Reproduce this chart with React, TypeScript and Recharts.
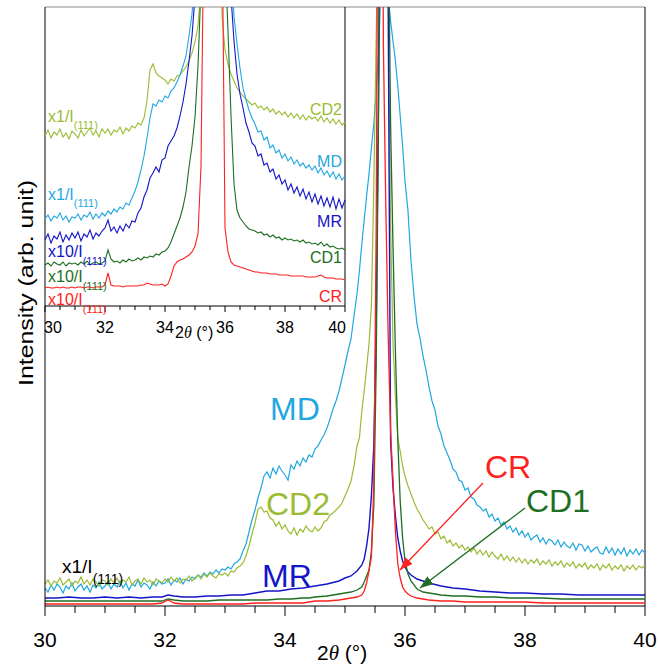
import React from 'react';
import { Line, LineChart, ReferenceLine, XAxis, YAxis } from 'recharts';

const FONT = '"Liberation Sans", Arial, sans-serif';

const C_MD = '#1fa8e0';
const C_CD2 = '#9bbb32';
const C_MR = '#1414c8';
const C_CD1 = '#1e6e23';
const C_CR = '#ff2020';

const axisTicks = [30, 30.5, 31, 31.5, 32, 32.5, 33, 33.5, 34, 34.5, 35, 35.5, 36, 36.5, 37, 37.5, 38, 38.5, 39, 39.5, 40];

// main panel, noisy scans (MD, CD2)
const fineAngles = [
  30, 30.05, 30.1, 30.15, 30.2, 30.25, 30.3, 30.35, 30.4, 30.45,
  30.5, 30.55, 30.6, 30.65, 30.7, 30.75, 30.8, 30.85, 30.9, 30.95,
  31, 31.05, 31.1, 31.15, 31.2, 31.25, 31.3, 31.35, 31.4, 31.45,
  31.5, 31.55, 31.6, 31.65, 31.7, 31.75, 31.8, 31.85, 31.9, 31.95,
  32, 32.05, 32.1, 32.15, 32.2, 32.25, 32.3, 32.35, 32.4, 32.45,
  32.5, 32.55, 32.6, 32.65, 32.7, 32.75, 32.8, 32.85, 32.9, 32.95,
  33, 33.05, 33.1, 33.15, 33.2, 33.25, 33.3, 33.35, 33.4, 33.45,
  33.5, 33.55, 33.6, 33.65, 33.7, 33.75, 33.8, 33.85, 33.9, 33.95,
  34, 34.05, 34.1, 34.15, 34.2, 34.25, 34.3, 34.35, 34.4, 34.45,
  34.5, 34.55, 34.6, 34.65, 34.7, 34.75, 34.8, 34.85, 34.9, 34.95,
  35, 35.05, 35.1, 35.15, 35.2,
  35.24, 35.28, 35.32, 35.36, 35.4, 35.44, 35.48, 35.52, 35.56, 35.6,
  35.64, 35.68, 35.72, 35.76, 35.8, 35.84, 35.88, 35.92, 35.96, 36,
  36.05, 36.1, 36.15, 36.2, 36.25, 36.3, 36.35, 36.4, 36.45, 36.5,
  36.55, 36.6, 36.65, 36.7, 36.75, 36.8, 36.85, 36.9, 36.95, 37,
  37.05, 37.1, 37.15, 37.2, 37.25, 37.3, 37.35, 37.4, 37.45, 37.5,
  37.55, 37.6, 37.65, 37.7, 37.75, 37.8, 37.85, 37.9, 37.95, 38,
  38.05, 38.1, 38.15, 38.2, 38.25, 38.3, 38.35, 38.4, 38.45, 38.5,
  38.55, 38.6, 38.65, 38.7, 38.75, 38.8, 38.85, 38.9, 38.95, 39,
  39.05, 39.1, 39.15, 39.2, 39.25, 39.3, 39.35, 39.4, 39.45, 39.5,
  39.55, 39.6, 39.65, 39.7, 39.75, 39.8, 39.85, 39.9, 39.95, 40,
];

const mdMain = [
  18, 14, 21, 16, 22, 19, 13, 20, 17, 23,
  15, 19, 22, 16, 20, 14, 21, 18, 24, 17,
  20, 24, 17, 22, 19, 25, 18, 23, 16, 22,
  20, 26, 19, 23, 21, 17, 24, 20, 25, 22,
  23, 27, 21, 26, 24, 28, 22, 27, 25, 29,
  27, 31, 29, 33, 30, 34, 32, 36, 33, 37,
  36, 39, 37, 42, 44, 47, 55, 62, 74, 86,
  96, 108, 118, 130, 134, 128, 138, 132, 140, 135,
  131, 126, 141, 137, 145, 140, 148, 144, 151, 149,
  157, 160, 166, 171, 178, 187, 197, 205, 215, 228,
  241, 255, 267, 290, 312,
  335, 362, 386, 410, 432, 458, 482, 515, 555, 620,
  700, 680, 610, 585, 565, 545, 520, 490, 460, 425,
  395, 345, 310, 282, 268, 250, 236, 219, 205, 196,
  180, 172, 160, 153, 146, 137, 134, 126, 124, 116,
  118, 109, 107, 101, 99, 95, 97, 89, 92, 85,
  88, 81, 84, 77, 80, 74, 78, 71, 75, 69,
  73, 66, 69, 71, 64, 68, 62, 67, 65, 61,
  66, 59, 64, 60, 58, 63, 56, 62, 61, 55,
  60, 54, 57, 59, 53, 52, 59, 53, 58, 51,
  57, 52, 58, 50, 56, 52, 57, 51, 56, 53,
];

const cd2Main = [
  22, 26, 20, 25, 23, 28, 21, 24, 27, 20,
  25, 23, 29, 22, 26, 21, 27, 24, 20, 26,
  25, 21, 27, 23, 28, 22, 26, 24, 29, 21,
  25, 27, 22, 28, 24, 26, 21, 27, 25, 23,
  27, 24, 29, 25, 28, 23, 27, 26, 30, 25,
  28, 31, 27, 32, 29, 33, 30, 28, 32, 31,
  33, 30, 35, 34, 38, 40, 43, 50, 60, 72,
  83, 97, 99, 94, 95, 88, 86, 80, 84, 77,
  81, 75, 72, 78, 71, 77, 74, 80, 76, 74,
  79, 75, 78, 84, 86, 91, 93, 96, 99, 103,
  110, 117, 125, 140, 160,
  168, 195, 215, 238, 262, 300, 420, 570, 700, 820,
  880, 800, 620, 380, 262, 210, 168, 155, 140, 130,
  120, 112, 104, 97, 92, 86, 82, 77, 79, 72,
  74, 67, 70, 63, 66, 60, 63, 58, 61, 56,
  59, 54, 58, 52, 56, 51, 55, 49, 54, 50,
  47, 52, 46, 50, 45, 49, 44, 48, 43, 47,
  42, 46, 43, 47, 41, 45, 42, 46, 40, 44,
  41, 45, 39, 43, 40, 44, 38, 42, 39, 43,
  37, 41, 38, 42, 36, 41, 38, 42, 36, 40,
  37, 41, 35, 40, 37, 41, 36, 40, 38, 41,
];

// main panel, smooth scans (MR, CD1, CR)
const smoothAngles = [
  30, 30.2, 30.4, 30.6, 30.8, 31, 31.2, 31.4, 31.6, 31.8,
  31.95, 32.05, 32.15, 32.3, 32.5, 32.7, 32.9, 33.1, 33.3, 33.5,
  33.7, 33.9, 34.1, 34.3, 34.4, 34.5, 34.7, 34.9, 35, 35.1,
  35.2, 35.28, 35.32, 35.36, 35.4, 35.44, 35.48, 35.52, 35.56, 35.6,
  35.64, 35.68, 35.72, 35.76, 35.8, 35.84, 35.88, 35.92, 35.96, 36,
  36.05, 36.1, 36.2, 36.3, 36.4, 36.6, 36.8, 37, 37.25, 37.5,
  37.75, 38, 38.3, 38.6, 38.9, 39.2, 39.5, 39.8, 40,
];

const mrMain = [
  8, 8, 9, 8, 8, 9, 8, 9, 8, 9,
  9, 11, 10, 9, 9, 10, 10, 11, 11, 13,
  15, 15, 17, 18, 19, 20, 22, 25, 28, 30,
  35, 41, 47, 60, 78, 110, 160, 280, 520, 900,
  1100, 950, 600, 165, 118, 90, 68, 55, 45, 39,
  34, 31, 27, 25, 23, 20, 18, 17, 15, 14,
  13, 13, 12, 12, 11, 11, 11, 11, 11,
];

const cd1Main = [
  5, 5, 5, 5, 5, 5, 5, 5, 5, 5,
  5, 7, 6, 5, 5, 5, 6, 6, 6, 6,
  6, 7, 7, 8, 8, 9, 10, 12, 13, 14,
  16, 19, 24, 30, 36, 55, 100, 240, 500, 900,
  1200, 1300, 700, 480, 360, 255, 166, 105, 68, 45,
  32, 25, 17, 14, 13, 11, 10, 10, 9, 9,
  8, 8, 8, 7, 7, 7, 7, 7, 7,
];

const crMain = [
  2, 2, 2, 2, 2, 2, 2, 2, 2, 2,
  3, 6, 3, 2, 2, 2, 2, 2, 2, 3,
  3, 3, 3, 3, 4, 5, 5, 6, 7, 8,
  9, 11, 15, 23, 35, 49, 120, 380, 900, 1000,
  560, 400, 270, 175, 125, 75, 42, 28, 19, 15,
  12, 10, 8, 7, 6, 5, 5, 4, 4, 4,
  4, 4, 3, 3, 3, 3, 3, 3, 3,
];

// inset (normalised, offset scans)
const insetAngles = [
  30, 30.1, 30.2, 30.3, 30.4, 30.5, 30.6, 30.7, 30.8, 30.9,
  31, 31.1, 31.2, 31.3, 31.4, 31.5, 31.6, 31.7, 31.8, 31.9,
  32, 32.1, 32.2, 32.3, 32.4, 32.5, 32.6, 32.7, 32.8, 32.9,
  33, 33.1, 33.2, 33.3, 33.4, 33.5, 33.6, 33.7, 33.8, 33.9,
  34, 34.1, 34.2, 34.3, 34.4, 34.5, 34.6, 34.7, 34.8, 34.9,
  35, 35.1, 35.2, 35.3, 35.4, 35.5, 35.6, 35.7, 35.8, 35.9,
  36, 36.1, 36.2, 36.3, 36.4, 36.5, 36.6, 36.7, 36.8, 36.9,
  37, 37.1, 37.2, 37.3, 37.4, 37.5, 37.6, 37.7, 37.8, 37.9,
  38, 38.1, 38.2, 38.3, 38.4, 38.5, 38.6, 38.7, 38.8, 38.9,
  39, 39.1, 39.2, 39.3, 39.4, 39.5, 39.6, 39.7, 39.8, 39.9,
  40,
];

const cd2Inset = [
  170, 176, 168, 174, 171, 177, 169, 173, 167, 175,
  172, 168, 176, 170, 174, 178, 171, 175, 169, 177,
  173, 177, 171, 176, 174, 179, 172, 178, 175, 180,
  178, 183, 181, 188, 205, 236, 242, 233, 230, 228,
  226, 222, 227, 225, 230, 231, 235, 239, 245, 253,
  264, 280, 320, 420, 600, 800, 900, 800, 500, 290,
  256, 242, 232, 225, 218, 214, 210, 207, 204, 201,
  203, 198, 200, 196, 199, 194, 197, 192, 195, 191,
  194, 189, 193, 188, 192, 187, 191, 186, 190, 187,
  189, 185, 190, 184, 188, 183, 187, 182, 186, 181,
  184,
];

const mdInset = [
  87, 91, 85, 90, 88, 93, 86, 90, 84, 89,
  88, 92, 86, 91, 89, 94, 87, 92, 88, 93,
  90, 95, 92, 97, 94, 99, 97, 103, 101, 108,
  115, 124, 136, 150, 168, 188, 202, 200, 206, 204,
  210, 208, 215, 218, 224, 231, 240, 250, 270, 292,
  330, 400, 520, 650, 800, 900, 950, 900, 800, 650,
  500, 400, 335, 290, 262, 238, 218, 206, 196, 188,
  182, 174, 175, 166, 169, 158, 161, 153, 156, 148,
  152, 145, 149, 142, 146, 140, 143, 138, 141, 136,
  140, 133, 138, 131, 135, 129, 134, 127, 132, 126,
  130,
];

const mrInset = [
  66, 72, 63, 70, 67, 74, 64, 71, 66, 73,
  68, 74, 65, 72, 69, 76, 67, 73, 70, 75,
  78, 86, 75, 79, 73, 80, 75, 82, 78, 85,
  84, 93, 98, 109, 116, 128, 133, 139, 134, 146,
  148, 160, 165, 170, 178, 190, 204, 222, 245, 270,
  310, 420, 600, 800, 950, 1000, 1000, 950, 800, 650,
  480, 380, 310, 265, 232, 212, 198, 183, 174, 163,
  160, 150, 152, 141, 143, 134, 137, 127, 131, 122,
  126, 116, 122, 113, 119, 110, 117, 107, 114, 104,
  112, 102, 110, 100, 108, 99, 109, 97, 107, 98,
  106,
];

const cd1Inset = [
  41, 43, 40, 44, 42, 41, 44, 40, 43, 42,
  43, 41, 44, 42, 45, 41, 43, 44, 42, 43,
  45, 56, 47, 44, 45, 43, 46, 44, 47, 45,
  46, 48, 46, 49, 48, 50, 49, 52, 51, 54,
  55, 58, 64, 72, 80, 88, 99, 114, 139, 160,
  189, 240, 320, 600, 900, 1000, 1000, 900, 700, 500,
  350, 275, 190, 122, 96, 88, 84, 80, 77, 76,
  75, 73, 74, 71, 72, 69, 71, 68, 69, 66,
  68, 66, 67, 65, 66, 64, 66, 63, 64, 62,
  63, 61, 64, 60, 62, 59, 60, 58, 57, 58,
  56,
];

const crInset = [
  18, 19, 18, 18, 19, 18, 19, 18, 18, 19,
  18, 19, 19, 18, 19, 19, 18, 19, 19, 19,
  21, 33, 21, 20, 20, 20, 19, 20, 20, 20,
  20, 20, 21, 21, 23, 22, 21, 21, 21, 22,
  20, 22, 30, 40, 44, 46, 47, 49, 51, 54,
  60, 72, 140, 400, 900, 1200, 1300, 1200, 800, 400,
  78, 54, 44, 41, 40, 39, 38, 37, 36, 35,
  34, 34, 33, 33, 33, 32, 32, 32, 31, 31,
  31, 31, 30, 30, 30, 30, 30, 29, 29, 29,
  29, 30, 31, 29, 28, 28, 28, 27, 27, 27,
  26,
];

const zip = (angles: number[], vals: number[]) => angles.map((a, i) => ({ a, v: vals[i] }));

const mainTick = (p: any) => {
  const v = p.payload.value;
  const major = v % 2 === 0;
  return (
    <g>
      <line x1={p.x} x2={p.x} y1={p.y} y2={p.y + (major ? 10 : 7)} stroke="#000" />
      {major && (
        <text x={p.x} y={p.y + 41} textAnchor="middle" fontSize={21} fontFamily={FONT} fill="#000">
          {v}
        </text>
      )}
    </g>
  );
};

const insetTick = (p: any) => {
  const v = p.payload.value;
  const major = v % 2 === 0;
  const anchor = v === 30 ? 'start' : v === 40 ? 'end' : 'middle';
  const tx = v === 30 ? p.x - 1 : v === 40 ? p.x + 1 : p.x;
  return (
    <g>
      <line x1={p.x} x2={p.x} y1={p.y} y2={p.y + (major ? 6 : 4)} stroke="#000" />
      {major && (
        <text x={tx} y={p.y + 27} textAnchor={anchor} fontSize={16} fontFamily={FONT} fill="#000">
          {v}
        </text>
      )}
    </g>
  );
};

function Sub({ x, y, color, main, size, subSize, drop }: any) {
  return (
    <text x={x} y={y} fill={color} fontSize={size} fontFamily={FONT}>
      {main}
      <tspan dy={drop} fontSize={subSize}>(111)</tspan>
    </text>
  );
}

export default function App() {
  const line = (data: any[], color: string, w: number, key: string) => (
    <Line
      key={key}
      data={data}
      dataKey="v"
      type="linear"
      stroke={color}
      strokeWidth={w}
      dot={false}
      activeDot={false}
      isAnimationActive={false}
    />
  );

  return (
    <div style={{ position: 'absolute', left: 0, top: 0, width: 660, height: 668, background: '#fff' }}>
      <div style={{ position: 'absolute', left: 0, top: 0 }}>
        <LineChart width={660} height={668} margin={{ top: 7, right: 15, bottom: 0, left: 0 }}>
          <XAxis
            type="number"
            dataKey="a"
            domain={[30, 40]}
            ticks={axisTicks}
            interval={0}
            height={62}
            tickLine={false}
            tickSize={0}
            tickMargin={0}
            tick={mainTick}
            axisLine={{ stroke: '#000' }}
          />
          <YAxis type="number" domain={[0, 599]} allowDataOverflow width={45} tick={false} tickLine={false} axisLine={{ stroke: '#000' }} />
          <ReferenceLine y={599} stroke="#8c8c8c" />
          <ReferenceLine x={40} stroke="#000" />
          {line(zip(fineAngles, mdMain), C_MD, 1.2, 'md')}
          {line(zip(fineAngles, cd2Main), C_CD2, 1.2, 'cd2')}
          {line(zip(smoothAngles, mrMain), C_MR, 1.4, 'mr')}
          {line(zip(smoothAngles, cd1Main), C_CD1, 1.3, 'cd1')}
          {line(zip(smoothAngles, crMain), C_CR, 1.3, 'cr')}
        </LineChart>
      </div>

      <div style={{ position: 'absolute', left: 46, top: 8, width: 299, height: 298, background: '#fff' }} />

      <div style={{ position: 'absolute', left: 0, top: 0 }}>
        <LineChart width={350} height={345} margin={{ top: 7, right: 5, bottom: 0, left: 45 }}>
          <XAxis
            type="number"
            dataKey="a"
            domain={[30, 40]}
            ticks={axisTicks}
            interval={0}
            height={39}
            tickLine={false}
            tickSize={0}
            tickMargin={0}
            tick={insetTick}
            axisLine={{ stroke: '#000' }}
          />
          <YAxis type="number" domain={[0, 299]} allowDataOverflow hide />
          <ReferenceLine x={40} stroke="#000" />
          {line(zip(insetAngles, cd2Inset), C_CD2, 1.1, 'icd2')}
          {line(zip(insetAngles, mdInset), C_MD, 1.1, 'imd')}
          {line(zip(insetAngles, mrInset), C_MR, 1.1, 'imr')}
          {line(zip(insetAngles, cd1Inset), C_CD1, 1.1, 'icd1')}
          {line(zip(insetAngles, crInset), C_CR, 1.1, 'icr')}
        </LineChart>
      </div>

      <svg width={660} height={668} style={{ position: 'absolute', left: 0, top: 0, pointerEvents: 'none' }}>
        <defs>
          <marker id="headRed" markerUnits="userSpaceOnUse" markerWidth={13} markerHeight={10} refX={13} refY={5} orient="auto">
            <path d="M0,0 L13,5 L0,10 z" fill={C_CR} />
          </marker>
          <marker id="headGreen" markerUnits="userSpaceOnUse" markerWidth={13} markerHeight={10} refX={13} refY={5} orient="auto">
            <path d="M0,0 L13,5 L0,10 z" fill={C_CD1} />
          </marker>
        </defs>

        <text
          transform="translate(33,283) rotate(-90)"
          textAnchor="middle"
          fontSize={20}
          textLength={206}
          lengthAdjust="spacingAndGlyphs"
          fontFamily={FONT}
          fill="#000"
        >
          Intensity (arb. unit)
        </text>
        <text x={317} y={660} fontSize={21} fontFamily={FONT} fill="#000">
          2<tspan fontStyle="italic" fontFamily='"Liberation Serif", serif'>θ</tspan> (°)
        </text>
        <text x={175} y={338} fontSize={16} fontFamily={FONT} fill="#000">
          2<tspan fontStyle="italic" fontFamily='"Liberation Serif", serif'>θ</tspan> (°)
        </text>

        <text x={270} y={420} fontSize={32} fontFamily={FONT} fill={C_MD}>MD</text>
        <text x={266} y={515} fontSize={32} fontFamily={FONT} fill={C_CD2}>CD2</text>
        <text x={262} y={587} fontSize={32} fontFamily={FONT} fill={C_MR}>MR</text>
        <text x={485} y={478} fontSize={32} fontFamily={FONT} fill={C_CR}>CR</text>
        <text x={526} y={512} fontSize={32} fontFamily={FONT} fill={C_CD1}>CD1</text>
        <Sub x={62} y={573} color="#000" main="x1/I" size={19} subSize={14} drop={11} />

        <line x1={483} y1={483} x2={400} y2={570} stroke={C_CR} strokeWidth={1.3} markerEnd="url(#headRed)" />
        <line x1={525} y1={508} x2={420} y2={588} stroke={C_CD1} strokeWidth={1.3} markerEnd="url(#headGreen)" />

        <text x={342} y={115} textAnchor="end" fontSize={16} fontFamily={FONT} fill={C_CD2}>CD2</text>
        <text x={342} y={167} textAnchor="end" fontSize={16} fontFamily={FONT} fill={C_MD}>MD</text>
        <text x={342} y={227} textAnchor="end" fontSize={16} fontFamily={FONT} fill={C_MR}>MR</text>
        <text x={342} y={263} textAnchor="end" fontSize={16} fontFamily={FONT} fill={C_CD1}>CD1</text>
        <text x={342} y={302} textAnchor="end" fontSize={16} fontFamily={FONT} fill={C_CR}>CR</text>

        <Sub x={48} y={122} color={C_CD2} main="x1/I" size={16} subSize={11} drop={7} />
        <Sub x={48} y={200} color={C_MD} main="x1/I" size={16} subSize={11} drop={7} />
        <Sub x={48} y={257} color={C_MR} main="x10/I" size={16} subSize={11} drop={8} />
        <Sub x={48} y={282} color={C_CD1} main="x10/I" size={16} subSize={11} drop={8} />
        <Sub x={48} y={305} color={C_CR} main="x10/I" size={16} subSize={11} drop={8} />
      </svg>
    </div>
  );
}
